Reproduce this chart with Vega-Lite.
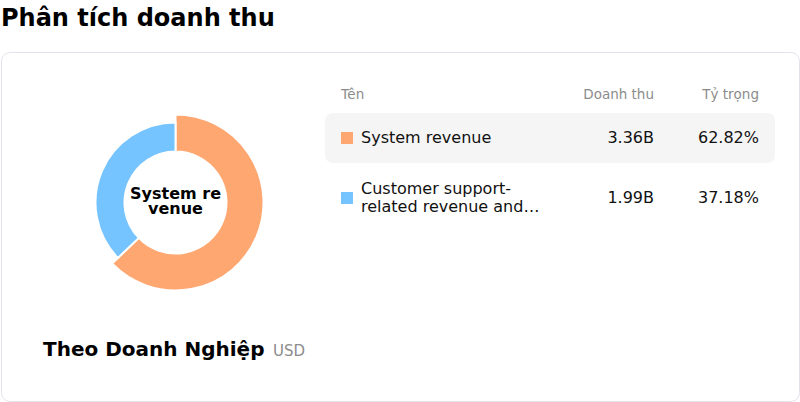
{
  "$schema": "https://vega.github.io/schema/vega-lite/v6.json",
  "width": 798,
  "height": 349,
  "padding": {"left": 1, "right": 1, "top": 7, "bottom": 1},
  "background": "white",
  "title": {
    "text": "Phân tích doanh thu",
    "anchor": "start",
    "frame": "group",
    "fontSize": 24,
    "fontWeight": "bold",
    "color": "#000000",
    "offset": 21
  },
  "data": {
    "values": [
      {"name": "System revenue", "label": "System revenue", "value": 3.36, "revenue": "3.36B", "share": "62.82%"},
      {"name": "Customer support-related revenue and…", "label": "Customer support-\nrelated revenue and…", "value": 1.99, "revenue": "1.99B", "share": "37.18%"}
    ]
  },
  "layer": [
    {
      "transform": [{"filter": "datum.name === 'System revenue'"}],
      "mark": {"type": "rect", "fill": "#f5f5f5", "cornerRadius": 8},
      "encoding": {
        "x": {"value": 324},
        "x2": {"value": 774},
        "y": {
          "field": "name",
          "type": "nominal",
          "scale": {
            "type": "band",
            "domain": ["System revenue", "Customer support-related revenue and…"],
            "range": [61, 171],
            "paddingInner": 0.1667,
            "paddingOuter": 0
          }
        }
      }
    },
    {
      "mark": {"type": "square", "size": 144, "opacity": 1, "filled": true},
      "encoding": {
        "x": {"value": 346},
        "y": {"field": "name", "type": "nominal"},
        "color": {
          "field": "name",
          "type": "nominal",
          "scale": {
            "domain": ["System revenue", "Customer support-related revenue and…"],
            "range": ["#ffa770", "#75c4ff"]
          }
        }
      }
    },
    {
      "transform": [{"filter": "indexof(datum.label, '\\n') < 0"}],
      "mark": {"type": "text", "align": "left", "baseline": "middle", "fontSize": 16, "color": "#111111"},
      "encoding": {
        "x": {"value": 360},
        "y": {"field": "name", "type": "nominal"},
        "text": {"field": "label"}
      }
    },
    {
      "transform": [{"filter": "indexof(datum.label, '\\n') >= 0"}],
      "mark": {"type": "text", "align": "left", "baseline": "middle", "fontSize": 16, "lineHeight": 18, "lineBreak": "\n", "dy": -9, "color": "#111111"},
      "encoding": {
        "x": {"value": 360},
        "y": {"field": "name", "type": "nominal"},
        "text": {"field": "label"}
      }
    },
    {
      "mark": {"type": "text", "align": "right", "baseline": "middle", "fontSize": 16, "color": "#111111"},
      "encoding": {
        "x": {"value": 653},
        "y": {"field": "name", "type": "nominal"},
        "text": {"field": "revenue"}
      }
    },
    {
      "mark": {"type": "text", "align": "right", "baseline": "middle", "fontSize": 16, "color": "#111111"},
      "encoding": {
        "x": {"value": 758},
        "y": {"field": "name", "type": "nominal"},
        "text": {"field": "share"}
      }
    },
    {
      "data": {"values": [{"h": "Tên"}]},
      "mark": {"type": "text", "align": "left", "baseline": "middle", "fontSize": 13.5, "color": "#8c8c8c"},
      "encoding": {"x": {"value": 340}, "y": {"value": 43}, "text": {"field": "h"}}
    },
    {
      "data": {"values": [{"h": "Doanh thu"}]},
      "mark": {"type": "text", "align": "right", "baseline": "middle", "fontSize": 13.5, "color": "#8c8c8c"},
      "encoding": {"x": {"value": 653}, "y": {"value": 43}, "text": {"field": "h"}}
    },
    {
      "data": {"values": [{"h": "Tỷ trọng"}]},
      "mark": {"type": "text", "align": "right", "baseline": "middle", "fontSize": 13.5, "color": "#8c8c8c"},
      "encoding": {"x": {"value": 758}, "y": {"value": 43}, "text": {"field": "h"}}
    },
    {
      "mark": {
        "type": "arc",
        "innerRadius": 51,
        "outerRadius": {"expr": "datum.name === 'System revenue' ? 88 : 80"},
        "stroke": "white",
        "strokeWidth": 2
      },
      "encoding": {
        "x": {"value": 174.5},
        "y": {"value": 150.5},
        "theta": {"field": "value", "type": "quantitative", "stack": true},
        "order": {"field": "value", "sort": "descending"},
        "color": {"field": "name", "type": "nominal"}
      }
    },
    {
      "transform": [{"filter": "datum.name === 'System revenue'"}],
      "mark": {"type": "text", "text": ["System re", "venue"], "align": "center", "baseline": "middle", "fontSize": 16, "fontWeight": "bold", "lineHeight": 15, "color": "#000000"},
      "encoding": {"x": {"value": 174.5}, "y": {"value": 141.5}}
    },
    {
      "data": {"values": [{"t": "Theo Doanh Nghiệp"}]},
      "mark": {"type": "text", "align": "left", "baseline": "alphabetic", "fontSize": 20, "fontWeight": "bold", "color": "#000000"},
      "encoding": {"x": {"value": 42}, "y": {"value": 304}, "text": {"field": "t"}}
    },
    {
      "data": {"values": [{"t": "USD"}]},
      "mark": {"type": "text", "align": "left", "baseline": "alphabetic", "fontSize": 15, "color": "#8c8c8c"},
      "encoding": {"x": {"value": 272}, "y": {"value": 304}, "text": {"field": "t"}}
    }
  ],
  "config": {
    "font": "DejaVu Sans",
    "view": {"stroke": "#e2e2ec", "strokeWidth": 1, "cornerRadius": 9, "fill": "white"},
    "axis": {"disable": true},
    "legend": {"disable": true}
  }
}
